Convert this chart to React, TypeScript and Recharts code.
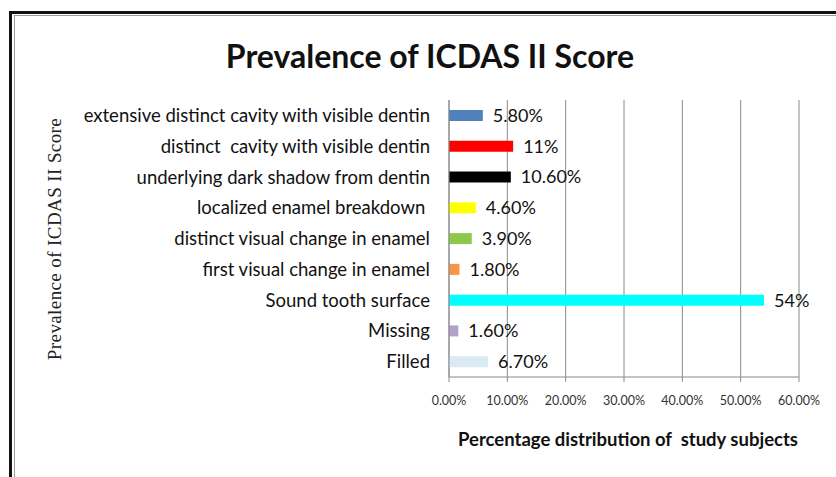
import React from "react";
import { BarChart, Bar, XAxis, YAxis, CartesianGrid, Cell, LabelList, Label } from "recharts";

const categories = [
  "extensive distinct cavity with visible dentin",
  "distinct  cavity with visible dentin",
  "underlying dark shadow from dentin",
  "localized enamel breakdown ",
  "distinct visual change in enamel",
  "first visual change in enamel",
  "Sound tooth surface",
  "Missing",
  "Filled",
];
const values = [5.8, 11, 10.6, 4.6, 3.9, 1.8, 54, 1.6, 6.7];
const valueLabels = ["5.80%", "11%", "10.60%", "4.60%", "3.90%", "1.80%", "54%", "1.60%", "6.70%"];
const barColors = ["#4F81BD", "#FF0000", "#000000", "#FFFF00", "#8CC84B", "#F79646", "#00FFFF", "#B3A2C7", "#DAEAF4"];
const xTicks = [0, 10, 20, 30, 40, 50, 60];

const data = categories.map((name, i) => ({ name, value: values[i], label: valueLabels[i] }));

const FONT = "Lato, 'Open Sans', sans-serif";

export default function App() {
  return (
    <div style={{ position: "absolute", left: 0, top: 0, width: 836, height: 477, overflow: "hidden", background: "#fff" }}>
      <div style={{ position: "absolute", left: 9, top: 11, width: 1000, height: 1000, borderLeft: "3px solid #111", borderTop: "3px solid #111" }} />
      <div style={{ position: "absolute", left: 14, top: 15, width: 1000, height: 1000, borderLeft: "1px solid #9a9a9a", borderTop: "1px solid #9a9a9a" }} />
      <div style={{ position: "absolute", left: 0, top: 0 }}>
        <BarChart
          width={836}
          height={477}
          layout="vertical"
          data={data}
          margin={{ top: 100, right: 37, bottom: 0, left: 0 }}
        >
          <text x={430} y={68} textAnchor="middle" style={{ fontFamily: FONT, fontSize: 32, fontWeight: 700, fill: "#111" }}>
            Prevalence of ICDAS II Score
          </text>
          <CartesianGrid horizontal={false} vertical={true} stroke="#8a8a8a" strokeWidth={1} />
          <XAxis
            type="number"
            domain={[0, 60]}
            ticks={xTicks}
            tickFormatter={(v: number) => v.toFixed(2) + "%"}
            height={100}
            stroke="#8a8a8a"
            tickSize={5}
            tickMargin={14}
            tick={{ fontFamily: FONT, fontSize: 12.5, fill: "#333" }}
            interval={0}
          >
            <Label
              content={() => (
                <text
                  x={628}
                  y={446}
                  textAnchor="middle"
                  style={{ fontFamily: FONT, fontSize: 18.5, fontWeight: 700, fill: "#111", whiteSpace: "pre" }}
                >
                  {"Percentage distribution of  study subjects"}
                </text>
              )}
            />
          </XAxis>
          <YAxis
            type="category"
            dataKey="name"
            width={449}
            tickSize={0}
            tickMargin={19}
            stroke="#8a8a8a"
            tickFormatter={(v: string) => v.replace(/ /g, "\u00a0")}
            tick={{ fontFamily: FONT, fontSize: 18.5, fill: "#111" }}
            interval={0}
          >
            <Label
              content={() => (
                <text
                  x={61}
                  y={239}
                  transform="rotate(-90 61 239)"
                  textAnchor="middle"
                  style={{ fontFamily: "'Liberation Serif', 'DejaVu Serif', serif", fontSize: 19, letterSpacing: 0.4, fill: "#222" }}
                >
                  Prevalence of ICDAS II Score
                </text>
              )}
            />
          </YAxis>
          <Bar dataKey="value" barSize={11} isAnimationActive={false}>
            {data.map((d, i) => (
              <Cell key={i} fill={barColors[i]} />
            ))}
            <LabelList
              dataKey="label"
              position="right"
              offset={10}
              style={{ fontFamily: FONT, fontSize: 18, fontWeight: 400, fill: "#111" }}
            />
          </Bar>
        </BarChart>
      </div>
    </div>
  );
}
